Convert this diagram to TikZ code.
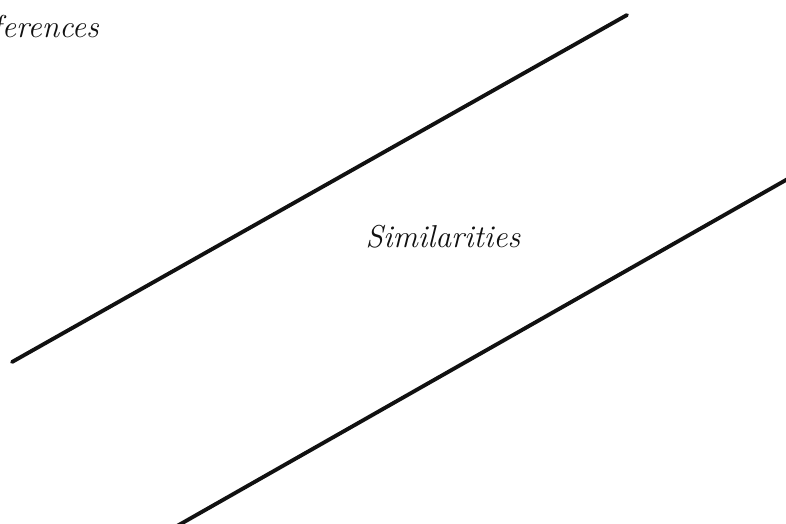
\documentclass[tikz,border=0pt]{standalone}
\usepackage{xcolor}
\definecolor{ink}{HTML}{111111}

\begin{document}
\begin{tikzpicture}[x=0.02cm, y=-0.02cm,
          every node/.style={font=\fontsize{18}{21}\selectfont\itshape, text=ink},
          divider/.style={draw=ink, line width=2.2pt, line cap=round}]
        % Two parallel dividers splitting the page into bands,
        % with a label in the upper band and one in the middle band.
        % Coordinates: (x,y) in px, y downwards
        \useasboundingbox (0,0) rectangle (786,523);
        \begin{scope}
        \clip (0,0) rectangle (786,523);
        \coordinate (A1) at (12,362);
        \coordinate (A2) at (627,15);
        \coordinate (B1) at (170,530);
        \coordinate (B2) at (800,172);
        \draw[divider] (A1) -- (A2);
        \draw[divider] (B1) -- (B2);
        \node[anchor=base east] (DIFF) at (105,38) {Differences};
        \node[anchor=base] (SIM) at (443,247) {Similarities};
        \end{scope}
      \end{tikzpicture}
\end{document}
